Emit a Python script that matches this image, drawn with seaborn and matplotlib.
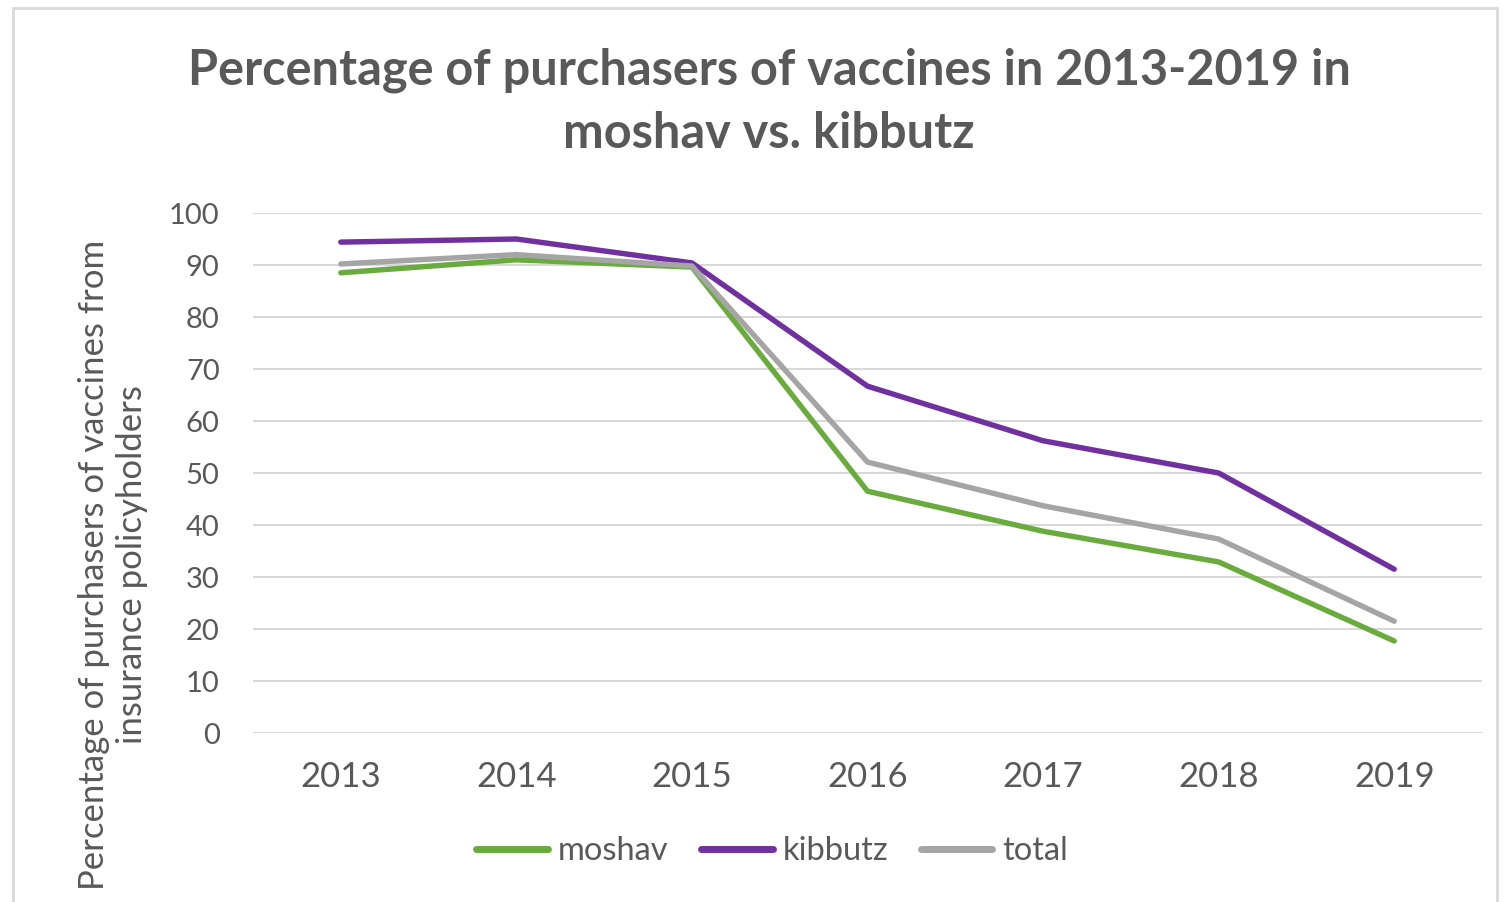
import matplotlib
matplotlib.use("Agg")
import matplotlib.pyplot as plt
import seaborn as sns
import pandas as pd

years = ["2013", "2014", "2015", "2016", "2017", "2018", "2019"]
moshav = [88.5, 91.0, 89.6, 46.5, 38.8, 32.9, 17.7]
kibbutz = [94.4, 95.0, 90.4, 66.7, 56.2, 50.0, 31.5]
total = [90.2, 92.0, 89.8, 52.1, 43.7, 37.3, 21.5]
series_names = ["moshav", "kibbutz", "total"]
yticks = [0, 10, 20, 30, 40, 50, 60, 70, 80, 90, 100]

title = "Percentage of purchasers of vaccines in 2013-2019 in\nmoshav vs. kibbutz"
ylabel = "Percentage of purchasers of vaccines from\ninsurance policyholders"

df = pd.DataFrame({
    "year": years * 3,
    "value": moshav + kibbutz + total,
    "series": sum([[s] * len(years) for s in series_names], []),
})

sns.set_theme(style="white")
plt.rcParams["font.family"] = ["Lato", "DejaVu Sans"]

text_color = "#595959"
palette = {"moshav": "#6AAB3E", "kibbutz": "#7030A0", "total": "#A5A5A5"}

fig = plt.figure(figsize=(15.03, 9.02), dpi=100)
ax = fig.add_axes([253 / 1503, 1 - 733 / 902, (1482 - 253) / 1503, (733 - 213) / 902])

sns.lineplot(data=df, x="year", y="value", hue="series", hue_order=series_names,
             palette=palette, linewidth=3.9, ax=ax, sort=False,
             solid_capstyle="round", solid_joinstyle="round")

ax.set_xlim(-0.5, len(years) - 0.5)
ax.set_ylim(0, 100)
ax.set_yticks(yticks)
ax.yaxis.grid(True, color="#D9D9D9", linewidth=1.5)
ax.set_axisbelow(True)
for s in ax.spines.values():
    s.set_visible(False)
ax.tick_params(axis="y", length=0, labelsize=21, labelcolor=text_color, pad=24)
ax.tick_params(axis="x", length=0, labelsize=25, labelcolor=text_color, pad=20)
ax.set_xlabel("")
ax.set_ylabel("")

fig.text(113 / 1503, 1 - 565 / 902, ylabel, rotation=90, ha="center", va="center",
         fontsize=25, color=text_color, linespacing=1.2)

fig.text(769 / 1503, 1 - 102 / 902, title, ha="center", va="center",
         fontsize=35, fontweight="bold", color=text_color, linespacing=1.5)

leg = ax.legend(loc="center", bbox_to_anchor=(772 / 1503, 1 - 851 / 902),
                bbox_transform=fig.transFigure, ncol=3, frameon=False,
                fontsize=23.5, handlelength=2.2, handletextpad=0.3, columnspacing=1.0)
for t in leg.get_texts():
    t.set_color(text_color)
for l in leg.get_lines():
    l.set_linewidth(5)
    l.set_solid_capstyle("round")

border = plt.Rectangle((13 / 1503, -0.01), (1497 - 13) / 1503, 1 - 8 / 902 + 0.01,
                       transform=fig.transFigure, fill=False, edgecolor="#D9D9D9",
                       linewidth=2)
fig.patches.append(border)

fig.savefig("out.png", dpi=100, facecolor="white")
